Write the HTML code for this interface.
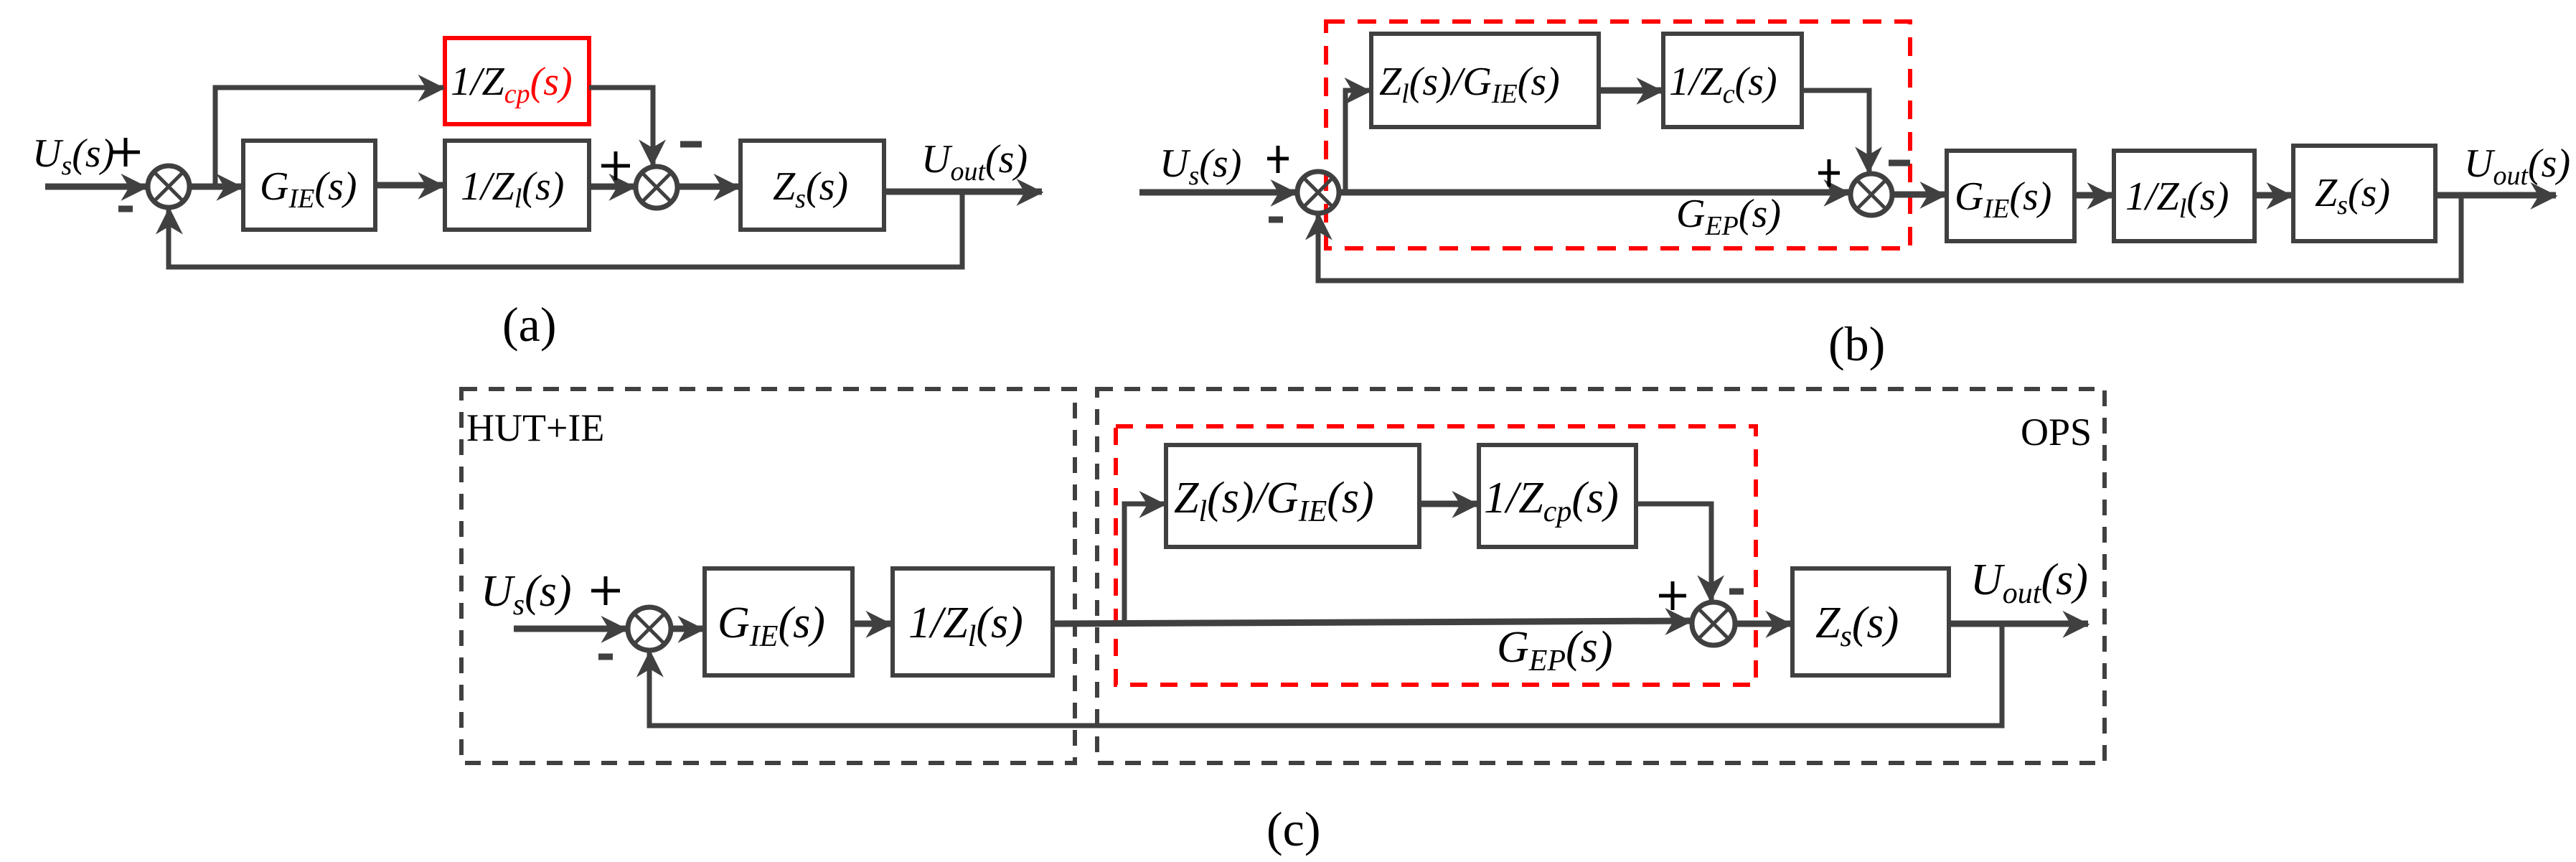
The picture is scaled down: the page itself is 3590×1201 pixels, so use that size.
<!DOCTYPE html>
<html><head><meta charset="utf-8"><style>
html,body{margin:0;padding:0;background:#fff;}
svg{display:block}
text{font-family:"Liberation Serif",serif;fill:#000}
.i{font-style:italic}
</style></head><body>
<svg width="3590" height="1201" viewBox="0 0 3590 1201" xmlns="http://www.w3.org/2000/svg" font-family="Liberation Serif, serif">
<defs>
<marker id="ar" markerWidth="10" markerHeight="10" refX="9" refY="5" orient="auto" markerUnits="userSpaceOnUse" viewBox="0 0 10 10" style="overflow:visible">
<path d="M0,0 L10,5 L0,10 L3,5 Z" fill="#404040" transform="scale(3.8) translate(-7,-3.45)"/>
</marker>
</defs>
<g stroke="#404040" fill="none" stroke-width="7">
<!-- ===== (a) ===== -->
<rect x="339" y="196" width="184" height="124" stroke-width="6"/>
<rect x="620" y="196" width="201" height="124" stroke-width="6"/>
<rect x="1032" y="196" width="200" height="124" stroke-width="6"/>
<rect x="620" y="53" width="201" height="120" stroke="#f00" stroke-width="6"/>
<circle cx="235" cy="260" r="29"/>
<path d="M215,240 L255,280 M255,240 L215,280" stroke-width="5"/>
<circle cx="915" cy="261" r="29"/>
<path d="M895,241 L935,281 M935,241 L895,281" stroke-width="5"/>
<path d="M63,260 H204" marker-end="url(#ar)" stroke-width="9"/>
<path d="M264,260 H337" marker-end="url(#ar)" stroke-width="9"/>
<path d="M300,260 V122 H618" marker-end="url(#ar)" stroke-width="7"/>
<path d="M523,258 H618" marker-end="url(#ar)" stroke-width="9"/>
<path d="M821,260 H884" marker-end="url(#ar)" stroke-width="9"/>
<path d="M821,122 H910 V230" marker-end="url(#ar)" stroke-width="7"/>
<path d="M944,260 H1030" marker-end="url(#ar)" stroke-width="9"/>
<path d="M1232,267 H1452" marker-end="url(#ar)" stroke-width="9"/>
<path d="M1341,267 V372 H235 V291" marker-end="url(#ar)" stroke-width="7"/>

<!-- ===== (b) ===== -->
<rect x="1848" y="30" width="814" height="316" stroke="#f00" stroke-width="6" stroke-dasharray="26,18"/>
<rect x="1911" y="47" width="317" height="130" stroke-width="6"/>
<rect x="2318" y="47" width="193" height="130" stroke-width="6"/>
<rect x="2713" y="210" width="178" height="126" stroke-width="6"/>
<rect x="2946" y="210" width="196" height="126" stroke-width="6"/>
<rect x="3196" y="203" width="198" height="133" stroke-width="6"/>
<circle cx="1837" cy="268" r="29"/>
<path d="M1817,248 L1857,288 M1857,248 L1817,288" stroke-width="5"/>
<circle cx="2608" cy="271" r="29"/>
<path d="M2588,251 L2628,291 M2628,251 L2588,291" stroke-width="5"/>
<path d="M1588,268 H1806" marker-end="url(#ar)" stroke-width="9"/>
<path d="M1866,268 H2577" marker-end="url(#ar)" stroke-width="9"/>
<path d="M1875,268 V126 H1909" marker-end="url(#ar)" stroke-width="7"/>
<path d="M2228,126 H2316" marker-end="url(#ar)" stroke-width="9"/>
<path d="M2511,126 H2605 V240" marker-end="url(#ar)" stroke-width="7"/>
<path d="M2637,271 H2711" marker-end="url(#ar)" stroke-width="9"/>
<path d="M2891,272 H2944" marker-end="url(#ar)" stroke-width="9"/>
<path d="M3142,272 H3194" marker-end="url(#ar)" stroke-width="9"/>
<path d="M3394,272 H3562" marker-end="url(#ar)" stroke-width="9"/>
<path d="M3430,272 V391 H1837 V299" marker-end="url(#ar)" stroke-width="7"/>

<!-- ===== (c) ===== -->
<rect x="643" y="542" width="855" height="521" stroke-width="6" stroke-dasharray="22,16"/>
<rect x="1529" y="542" width="1404" height="521" stroke-width="6" stroke-dasharray="22,16"/>
<rect x="1555" y="594" width="892" height="360" stroke="#f00" stroke-width="6" stroke-dasharray="24,18"/>
<rect x="1625" y="620" width="353" height="142" stroke-width="6"/>
<rect x="2061" y="620" width="219" height="142" stroke-width="6"/>
<rect x="982" y="792" width="206" height="149" stroke-width="6"/>
<rect x="1244" y="792" width="223" height="149" stroke-width="6"/>
<rect x="2498" y="792" width="218" height="149" stroke-width="6"/>
<circle cx="905" cy="876" r="30"/>
<path d="M884,855 L926,897 M926,855 L884,897" stroke-width="5"/>
<circle cx="2388" cy="869" r="30"/>
<path d="M2367,848 L2409,890 M2409,848 L2367,890" stroke-width="5"/>
<path d="M716,876 H873" marker-end="url(#ar)" stroke-width="9"/>
<path d="M935,876 H980" marker-end="url(#ar)" stroke-width="9"/>
<path d="M1188,869 H1242" marker-end="url(#ar)" stroke-width="9"/>
<path d="M1467,869 L2356,865" marker-end="url(#ar)" stroke-width="9"/>
<path d="M1567,869 V702 H1623" marker-end="url(#ar)" stroke-width="7"/>
<path d="M1978,702 H2059" marker-end="url(#ar)" stroke-width="9"/>
<path d="M2280,702 H2385 V837" marker-end="url(#ar)" stroke-width="7"/>
<path d="M2418,869 H2496" marker-end="url(#ar)" stroke-width="9"/>
<path d="M2716,869 H2910" marker-end="url(#ar)" stroke-width="9"/>
<path d="M2790,869 V1011 H905 V908" marker-end="url(#ar)" stroke-width="7"/>
</g>

<!-- signs -->
<g stroke="#000" stroke-width="5">
<path d="M155,212 H195 M175,192 V232"/><path d="M165,291 H185" stroke="#404040" stroke-width="9"/>
<path d="M838,231 H878 M858,211 V251"/><path d="M948,201 H978" stroke="#404040" stroke-width="9"/>
<path d="M1766,221 H1796 M1781,203 V241"/><path d="M1768,306 H1788" stroke="#404040" stroke-width="9"/>
<path d="M2534,241 H2564 M2549,222 V260"/><path d="M2632,227 H2662" stroke="#404040" stroke-width="9"/>
<path d="M824,823 H864 M844,803 V843"/><path d="M834,915 H854" stroke="#404040" stroke-width="9"/>
<path d="M2312,830 H2350 M2331,810 V850"/><path d="M2410,824 H2430" stroke="#404040" stroke-width="9"/>
</g>

<!-- labels (a) -->
<g class="i" font-size="56" font-style="italic">
<text x="45" y="232">U<tspan font-size="38" dy="11">s</tspan><tspan dy="-11">(s)</tspan></text>
<text x="362" y="278">G<tspan font-size="38" dy="11">IE</tspan><tspan dy="-11">(s)</tspan></text>
<text x="642" y="278">1/Z<tspan font-size="38" dy="11">l</tspan><tspan dy="-11">(s)</tspan></text>
<text x="1077" y="278">Z<tspan font-size="38" dy="11">s</tspan><tspan dy="-11">(s)</tspan></text>
<text x="628" y="132" fill="#f00">1/Z<tspan font-size="38" dy="11" fill="#f00">cp</tspan><tspan dy="-11" fill="#f00">(s)</tspan></text>
<text x="1284" y="240">U<tspan font-size="38" dy="11">out</tspan><tspan dy="-11">(s)</tspan></text>
</g>
<text x="700" y="475" font-size="68">(a)</text>

<!-- labels (b) -->
<g class="i" font-size="56" font-style="italic">
<text x="1616" y="246">U<tspan font-size="38" dy="11">s</tspan><tspan dy="-11">(s)</tspan></text>
<text x="1922" y="132">Z<tspan font-size="38" dy="11">l</tspan><tspan dy="-11">(s)/G</tspan><tspan font-size="38" dy="11">IE</tspan><tspan dy="-11">(s)</tspan></text>
<text x="2326" y="132">1/Z<tspan font-size="38" dy="11">c</tspan><tspan dy="-11">(s)</tspan></text>
<text x="2724" y="292">G<tspan font-size="38" dy="11">IE</tspan><tspan dy="-11">(s)</tspan></text>
<text x="2962" y="292">1/Z<tspan font-size="38" dy="11">l</tspan><tspan dy="-11">(s)</tspan></text>
<text x="3226" y="287">Z<tspan font-size="38" dy="11">s</tspan><tspan dy="-11">(s)</tspan></text>
<text x="2336" y="316">G<tspan font-size="38" dy="11">EP</tspan><tspan dy="-11">(s)</tspan></text>
<text x="3434" y="246">U<tspan font-size="38" dy="11">out</tspan><tspan dy="-11">(s)</tspan></text>
</g>
<text x="2548" y="502" font-size="68">(b)</text>

<!-- labels (c) -->
<g class="i" font-size="62" font-style="italic">
<text x="670" y="844">U<tspan font-size="42" dy="12">s</tspan><tspan dy="-12">(s)</tspan></text>
<text x="1000" y="888">G<tspan font-size="42" dy="12">IE</tspan><tspan dy="-12">(s)</tspan></text>
<text x="1266" y="888">1/Z<tspan font-size="42" dy="12">l</tspan><tspan dy="-12">(s)</tspan></text>
<text x="2530" y="888">Z<tspan font-size="42" dy="12">s</tspan><tspan dy="-12">(s)</tspan></text>
<text x="1636" y="714">Z<tspan font-size="42" dy="12">l</tspan><tspan dy="-12">(s)/G</tspan><tspan font-size="42" dy="12">IE</tspan><tspan dy="-12">(s)</tspan></text>
<text x="2068" y="714">1/Z<tspan font-size="42" dy="12">cp</tspan><tspan dy="-12">(s)</tspan></text>
<text x="2086" y="922">G<tspan font-size="42" dy="12">EP</tspan><tspan dy="-12">(s)</tspan></text>
<text x="2746" y="828">U<tspan font-size="42" dy="12">out</tspan><tspan dy="-12">(s)</tspan></text>
</g>
<text x="650" y="614" font-size="54">HUT+IE</text>
<text x="2816" y="620" font-size="54">OPS</text>
<text x="1765" y="1178" font-size="68">(c)</text>
</svg>
</body></html>
